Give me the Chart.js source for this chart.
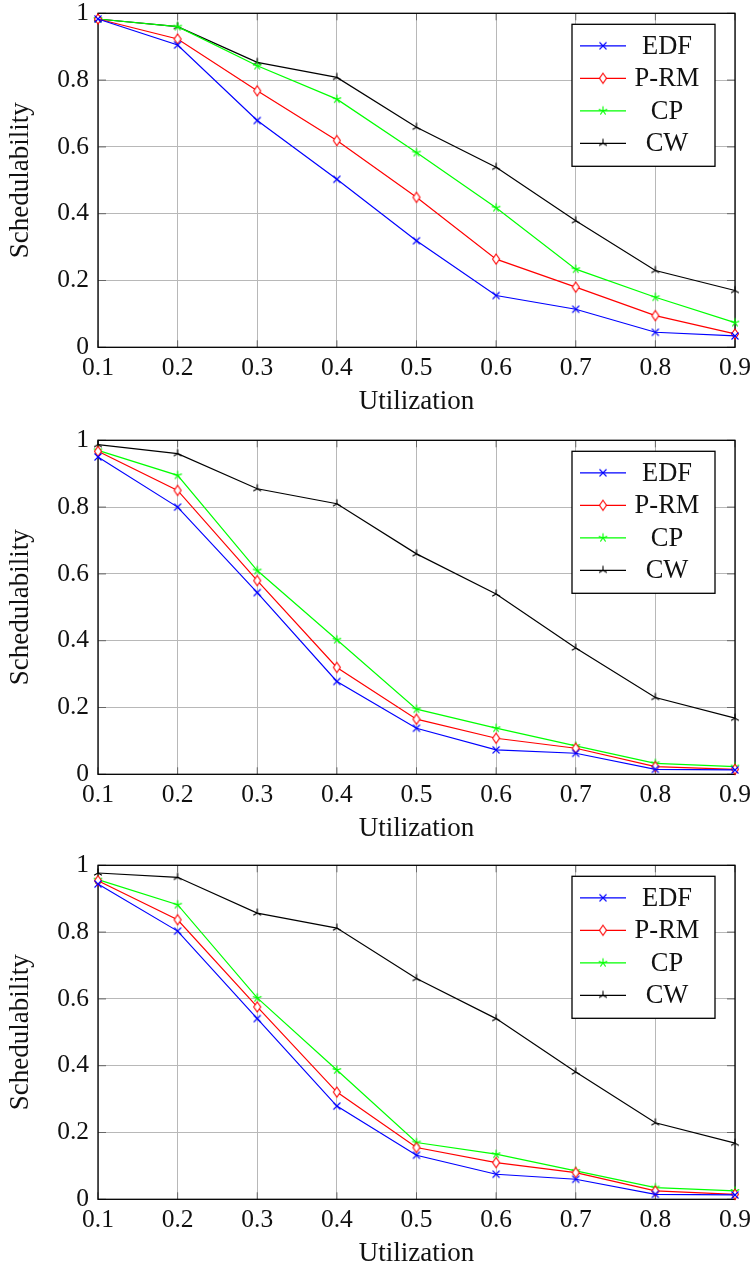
<!DOCTYPE html>
<html>
<head>
<meta charset="utf-8">
<script src="https://cdn.jsdelivr.net/npm/chart.js@4/dist/chart.umd.min.js"></script>
<style>
  html, body { margin: 0; padding: 0; background: #fff; width: 755px; height: 1272px; overflow: hidden; }
  .panel { position: absolute; left: 0; width: 755px; }
</style>
</head>
<body>
<div class="panel" style="top:0px;height:426px"><canvas id="c1"></canvas></div>
<div class="panel" style="top:427px;height:426px"><canvas id="c2"></canvas></div>
<div class="panel" style="top:852px;height:420px"><canvas id="c3"></canvas></div>
<script>
const utilization = [0.1, 0.2, 0.3, 0.4, 0.5, 0.6, 0.7, 0.8, 0.9];
const xTicks = [0.1, 0.2, 0.3, 0.4, 0.5, 0.6, 0.7, 0.8, 0.9];
const xTickLabels = ['0.1', '0.2', '0.3', '0.4', '0.5', '0.6', '0.7', '0.8', '0.9'];
const yTicks = [0, 0.2, 0.4, 0.6, 0.8, 1];
const yTickLabels = ['0', '0.2', '0.4', '0.6', '0.8', '1'];
const seriesNames = ['EDF', 'P-RM', 'CP', 'CW'];

// top panel
const edf1 = [0.983, 0.905, 0.679, 0.503, 0.319, 0.155, 0.114, 0.045, 0.034];
const prm1 = [0.983, 0.923, 0.768, 0.619, 0.449, 0.264, 0.180, 0.095, 0.040];
const cp1  = [0.983, 0.960, 0.843, 0.743, 0.583, 0.418, 0.234, 0.150, 0.074];
const cw1  = [0.983, 0.960, 0.853, 0.808, 0.659, 0.539, 0.379, 0.230, 0.170];

// middle panel
const edf2 = [0.950, 0.800, 0.544, 0.278, 0.138, 0.073, 0.063, 0.015, 0.013];
const prm2 = [0.967, 0.850, 0.580, 0.320, 0.165, 0.108, 0.078, 0.023, 0.015];
const cp2  = [0.970, 0.895, 0.610, 0.403, 0.195, 0.138, 0.085, 0.033, 0.023];
const cw2  = [0.987, 0.960, 0.855, 0.810, 0.660, 0.540, 0.378, 0.230, 0.168];

// bottom panel
const edf3 = [0.944, 0.803, 0.541, 0.279, 0.132, 0.075, 0.060, 0.015, 0.013];
const prm3 = [0.954, 0.837, 0.576, 0.321, 0.155, 0.110, 0.080, 0.025, 0.015];
const cp3  = [0.957, 0.882, 0.603, 0.387, 0.170, 0.135, 0.085, 0.035, 0.025];
const cw3  = [0.977, 0.964, 0.857, 0.812, 0.661, 0.541, 0.381, 0.229, 0.168];

const colors = ['#0000ff', '#ff0000', '#00ff00', '#000000'];
const FAMILY = "'Liberation Serif', 'DejaVu Serif', serif";
const TICK_FONT = { family: FAMILY, size: 25.5 };
const TITLE_FONT = { family: FAMILY, size: 27 };
const LEGEND_SIZE = 26.5;

// pgfplots-like marks drawn on small canvases
const makeMark = (color, kind) => {
    const c = document.createElement('canvas');
    c.width = 14; c.height = 14;
    const g = c.getContext('2d');
    g.translate(7, 7);
    g.strokeStyle = color;
    g.lineWidth = 1.1;
    g.beginPath();
    if (kind === 'x') {
        g.moveTo(-3.5, -3.5); g.lineTo(3.5, 3.5);
        g.moveTo(-3.5, 3.5); g.lineTo(3.5, -3.5);
    } else if (kind === 'diamond') {
        g.moveTo(0, -5); g.lineTo(3.5, 0); g.lineTo(0, 5); g.lineTo(-3.5, 0); g.closePath();
        g.fillStyle = '#fff';
        g.fill();
    } else {
        const arms = kind === 'star' ? 5 : 3;
        for (let k = 0; k < arms; k++) {
            const a = -Math.PI / 2 + k * 2 * Math.PI / arms;
            g.moveTo(0, 0);
            g.lineTo(Math.cos(a) * 4.5, Math.sin(a) * 4.5);
        }
    }
    g.stroke();
    return c;
};
const marks = [
    makeMark(colors[0], 'x'),
    makeMark(colors[1], 'diamond'),
    makeMark(colors[2], 'star'),
    makeMark(colors[3], 'tri')
];

const frame = {
    id: 'frame',
    beforeDatasetsDraw(chart) {
        const { ctx, chartArea: a, scales } = chart;
        ctx.save();
        ctx.strokeStyle = '#666';
        ctx.lineWidth = 1;
        ctx.beginPath();
        xTicks.forEach(v => {
            const x = scales.x.getPixelForValue(v);
            ctx.moveTo(x, a.bottom); ctx.lineTo(x, a.bottom - 7);
            ctx.moveTo(x, a.top); ctx.lineTo(x, a.top + 7);
        });
        yTicks.forEach(v => {
            const y = scales.y.getPixelForValue(v);
            ctx.moveTo(a.left, y); ctx.lineTo(a.left + 8, y);
            ctx.moveTo(a.right, y); ctx.lineTo(a.right - 8, y);
        });
        ctx.stroke();
        ctx.strokeStyle = '#000';
        ctx.lineWidth = 1.3;
        ctx.strokeRect(a.left, a.top, a.right - a.left, a.bottom - a.top);
        ctx.restore();
    },
    afterDraw(chart) {
        const { ctx, chartArea: a } = chart;
        const x0 = 572, y0 = a.top + 11, w = 143, h = 142;
        ctx.save();
        ctx.fillStyle = '#fff';
        ctx.fillRect(x0, y0, w, h);
        ctx.strokeStyle = '#000';
        ctx.lineWidth = 1.3;
        ctx.strokeRect(x0, y0, w, h);
        ctx.font = `${LEGEND_SIZE}px ${FAMILY}`;
        ctx.textAlign = 'center';
        ctx.textBaseline = 'middle';
        chart.data.datasets.forEach((ds, i) => {
            const y = y0 + 21.5 + i * 32.5;
            ctx.strokeStyle = ds.borderColor;
            ctx.lineWidth = ds.borderWidth;
            ctx.beginPath();
            ctx.moveTo(x0 + 8, y); ctx.lineTo(x0 + 54, y);
            ctx.stroke();
            ctx.drawImage(ds.pointStyle, x0 + 31 - 7, y - 7);
            ctx.fillStyle = '#111';
            ctx.fillText(ds.label, x0 + 95, y + 1);
        });
        ctx.restore();
    }
};

const drawPanel = (id, series, height) => {
    const plotH = 334;
    const axisH = height - 13.3 - plotH;
    new Chart(document.getElementById(id), {
        type: 'line',
        data: {
            datasets: series.map((vals, i) => ({
                label: seriesNames[i],
                data: vals.map((v, j) => ({ x: utilization[j], y: v })),
                borderColor: colors[i],
                backgroundColor: colors[i],
                borderWidth: 1.2,
                pointStyle: marks[i],
                pointRadius: 5,
                tension: 0,
                clip: false
            }))
        },
        options: {
            responsive: true,
            maintainAspectRatio: false,
            animation: false,
            events: [],
            layout: { padding: { left: 0, right: 20, top: 13.3, bottom: 0 } },
            plugins: { legend: { display: false }, tooltip: { enabled: false } },
            scales: {
                x: {
                    type: 'linear',
                    min: 0.1,
                    max: 0.9,
                    afterBuildTicks: s => { s.ticks = xTicks.map(v => ({ value: v })); },
                    afterFit: s => { s.height = axisH; s.paddingLeft = 0; s.paddingRight = 0; },
                    ticks: {
                        callback: (v, i) => xTickLabels[i],
                        font: TICK_FONT, color: '#111', padding: 6, maxRotation: 0, autoSkip: false
                    },
                    grid: { color: '#b8b8b8', lineWidth: 1, drawTicks: false },
                    border: { display: false },
                    title: {
                        display: true, text: 'Utilization', font: TITLE_FONT, color: '#111',
                        padding: { top: 0, bottom: axisH - 54.7 - TITLE_FONT.size * 0.6 }
                    }
                },
                y: {
                    min: 0,
                    max: 1,
                    afterBuildTicks: s => { s.ticks = yTicks.map(v => ({ value: v })); },
                    afterFit: s => { s.width = 98; s.paddingTop = 0; s.paddingBottom = 0; },
                    ticks: {
                        callback: (v, i) => yTickLabels[i],
                        font: TICK_FONT, color: '#111', padding: 9
                    },
                    grid: { color: '#b8b8b8', lineWidth: 1, drawTicks: false },
                    border: { display: false },
                    title: {
                        display: true, text: 'Schedulability', font: TITLE_FONT, color: '#111',
                        padding: { top: 5, bottom: 0 }
                    }
                }
            }
        },
        plugins: [frame]
    });
};

drawPanel('c1', [edf1, prm1, cp1, cw1], 426);
drawPanel('c2', [edf2, prm2, cp2, cw2], 426);
drawPanel('c3', [edf3, prm3, cp3, cw3], 420);
</script>
</body>
</html>
